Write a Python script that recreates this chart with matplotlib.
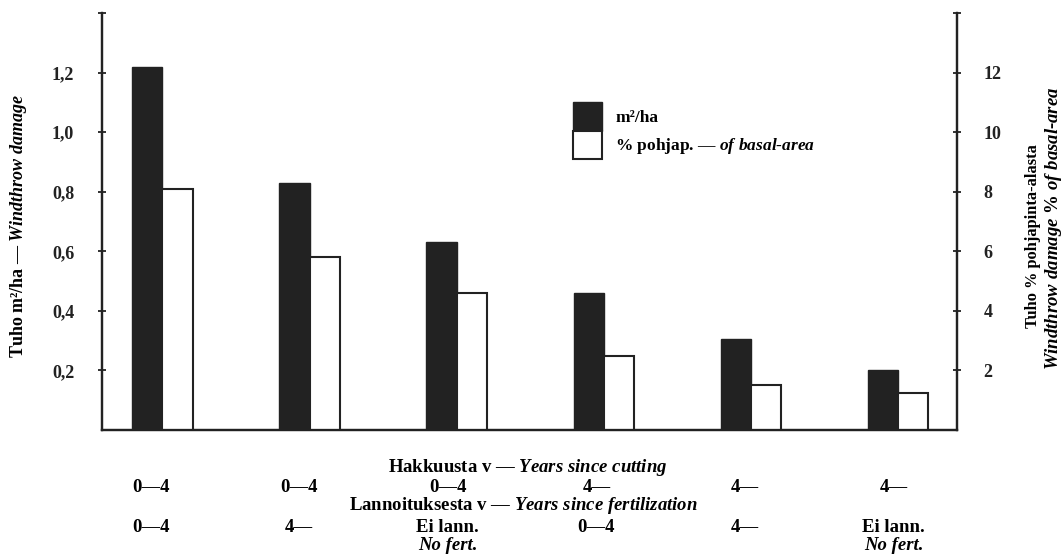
import matplotlib
matplotlib.use("Agg")
import matplotlib.pyplot as plt
import matplotlib.transforms as mtransforms
from matplotlib.patches import Patch

plt.rcParams['font.family'] = ['Liberation Serif', 'DejaVu Serif']
plt.rcParams['font.weight'] = 'bold'
plt.rcParams['mathtext.fontset'] = 'custom'
plt.rcParams['mathtext.rm'] = 'Liberation Serif:bold'
plt.rcParams['mathtext.it'] = 'Liberation Serif:bold:italic'
plt.rcParams['mathtext.bf'] = 'Liberation Serif:bold'

# data
m2_per_ha = [1.22, 0.83, 0.63, 0.46, 0.305, 0.20]       # left axis, black bars
pct_basal = [8.1, 5.8, 4.6, 2.5, 1.5, 1.25]              # right axis, white bars
cutting = ["0—4", "0—4", "0—4", "4—", "4—", "4—"]
fertil = ["0—4", "4—", "Ei lann.", "0—4", "4—", "Ei lann."]
fertil_en = ["", "", "No fert.", "", "", "No fert."]

left_ticks = [0.2, 0.4, 0.6, 0.8, 1.0, 1.2, 1.4]
left_labels = ["0,2", "0,4", "0,6", "0,8", "1,0", "1,2", ""]
right_ticks = [2, 4, 6, 8, 10, 12, 14]
right_labels = ["2", "4", "6", "8", "10", "12", ""]

fig = plt.figure(figsize=(10.64, 5.54), dpi=100)
ax = fig.add_axes([0.0959, 0.2238, 0.8035, 0.7527])
ax2 = ax.twinx()

x = list(range(len(m2_per_ha)))
w = 0.205
b1 = ax.bar([i - w / 2 for i in x], m2_per_ha, width=w, color='#222222',
            edgecolor='#222222', linewidth=1.0)
b2 = ax2.bar([i + w / 2 for i in x], pct_basal, width=w, color='white',
             edgecolor='#222222', linewidth=1.5)

ax.set_xlim(-0.41, 5.40)
ax.set_ylim(0, 1.4)
ax2.set_ylim(0, 14)

ax.set_xticks([])
ax.set_yticks(left_ticks)
ax.set_yticklabels(left_labels, fontsize=13, fontweight='bold')
ax2.set_yticks(right_ticks)
ax2.set_yticklabels(right_labels, fontsize=13, fontweight='bold')
ax.tick_params(axis='y', direction='inout', length=6, width=1.3, pad=17, colors='#222222')
ax2.tick_params(axis='y', direction='inout', length=6, width=1.3, pad=16, colors='#222222')

for a in (ax, ax2):
    a.spines['top'].set_visible(False)
    for s in ('left', 'right', 'bottom'):
        a.spines[s].set_linewidth(1.6)
        a.spines[s].set_color('#222222')
    a.patch.set_visible(False)

# legend
ax.legend([Patch(facecolor='#222222', edgecolor='#222222'),
           Patch(facecolor='white', edgecolor='#222222', linewidth=1.5)],
          ["m²/ha", r"% pohjap. — $\mathit{of\ basal‐area}$"],
          loc='upper left', bbox_to_anchor=(0.5385, 0.8159),
          bbox_transform=fig.transFigure, frameon=False, fontsize=12.5,
          handlelength=1.65, handleheight=2.15, labelspacing=0.0,
          borderpad=0, borderaxespad=0, handletextpad=0.8)

# axis titles
fig.text(0.017, 0.592, r"Tuho m²/ha — $\mathit{Windthrow\ damage}$",
         rotation=90, ha='center', va='center', fontsize=13)
fig.text(1033 / 1064, 0.574, "Tuho % pohjapinta-alasta",
         rotation=90, ha='center', va='center', fontsize=11.8)
fig.text(1054 / 1064, 0.588, r"$\mathit{Windthrow\ damage\ \%\ of\ basal‐area}$",
         rotation=90, ha='center', va='center', fontsize=13.5)

# category labels under the axis
tr = mtransforms.blended_transform_factory(ax.transData, fig.transFigure)
fig.text(0.496, 1 - 467 / 554, r"Hakkuusta v — $\mathit{Years\ since\ cutting}$",
         ha='center', va='center', fontsize=13.5)
fig.text(0.492, 1 - 506 / 554, r"Lannoituksesta v — $\mathit{Years\ since\ fertilization}$",
         ha='center', va='center', fontsize=13.5)
for i in x:
    xl = i - 0.08 + 0.01 * i
    ax.text(xl, 1 - 487 / 554, cutting[i], transform=tr,
            ha='center', va='center', fontsize=13.5)
    ax.text(xl, 1 - 527 / 554, fertil[i], transform=tr,
            ha='center', va='center', fontsize=13.5)
    if fertil_en[i]:
        ax.text(xl, 1 - 546 / 554, fertil_en[i], transform=tr,
                ha='center', va='center', fontsize=13.5, style='italic')

fig.savefig("out.png", dpi=100)
